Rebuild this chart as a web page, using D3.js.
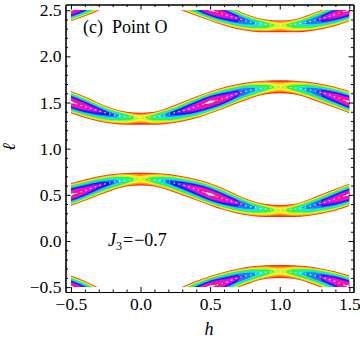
<!DOCTYPE html>
<html>
<head>
<meta charset="utf-8">
<script src="https://cdn.jsdelivr.net/npm/d3@7"></script>
<style>
  html, body { margin: 0; padding: 0; background: #fff; }
  text { font-family: "Liberation Serif", serif; fill: #000; }
</style>
</head>
<body>
<div id="chart"></div>
<script>
// values
const hKnots = [-0.5,-0.4,-0.3,-0.2,-0.1,0,0.1,0.2,0.3,0.4,0.5,0.6,0.7,0.8,0.9,1,1.1,1.2,1.3,1.4,1.5]

// band around l=0.5 (repeated at l=2.5)
const lowerTop = [.625,.665,.70,.725,.737,.74,.737,.725,.70,.668,.625,.565,.495,.435,.40,.39,.40,.445,.505,.565,.62]
const lowerRidge = [.50,.545,.60,.635,.66,.668,.66,.64,.607,.56,.505,.455,.41,.368,.345,.336,.345,.372,.41,.455,.505]
const lowerBottom = [.38,.435,.495,.55,.59,.60,.59,.55,.495,.44,.385,.335,.295,.27,.26,.26,.26,.27,.295,.33,.38]

// band around l=1.5 (repeated at l=-0.5)
const upperTop = [1.625,1.565,1.495,1.435,1.40,1.39,1.40,1.445,1.505,1.565,1.62,1.665,1.70,1.725,1.737,1.74,1.737,1.725,1.70,1.668,1.625]
const upperRidge = [1.505,1.455,1.41,1.368,1.345,1.336,1.345,1.372,1.41,1.455,1.505,1.545,1.60,1.635,1.66,1.668,1.66,1.64,1.607,1.56,1.505]
const upperBottom = [1.385,1.335,1.295,1.27,1.26,1.26,1.26,1.27,1.295,1.33,1.38,1.435,1.495,1.55,1.59,1.60,1.59,1.55,1.495,1.44,1.385]

// how far up the colour levels each knot goes
const peakLevel = [13.6,12.2,10.2,8.2,5.8,3.2,5.8,8.2,10.2,12.2,13.6,12.2,10.2,8,5.5,3.2,5.5,8,10.2,12.2,13.6]

const levelColors = ['#ff2a1a','#ff9a10','#ffee20','#a8ff20','#30f040','#20f0a0','#10e0f0','#1080ff','#1010f0','#7010f0','#d010f0','#ff10c0','#ff1080','#ffffff']

const xMajor = [-0.5,0,0.5,1,1.5]
const yMajor = [-0.5,0,0.5,1,1.5,2,2.5]
const xMinor = [-0.4,-0.3,-0.2,-0.1,0.1,0.2,0.3,0.4,0.6,0.7,0.8,0.9,1.1,1.2,1.3,1.4]
const yMinor = [-0.4,-0.3,-0.2,-0.1,0.1,0.2,0.3,0.4,0.6,0.7,0.8,0.9,1.1,1.2,1.3,1.4,1.6,1.7,1.8,1.9,2.1,2.2,2.3,2.4]

const width = 360, height = 343
const plotLeft = 65.5, plotRight = 353.5, plotTop = 4.5, plotBottom = 292

const x = d3.scaleLinear().domain([-0.539,1.53]).range([plotLeft,plotRight])
const y = d3.scaleLinear().domain([-0.553,2.562]).range([plotBottom,plotTop])

const svg = d3.select('#chart').append('svg')
  .attr('width',width).attr('height',height)
  .style('display','block')

svg.append('clipPath').attr('id','plotClip').append('rect')
  .attr('x',x(-0.5)).attr('y',y(2.5))
  .attr('width',x(1.5)-x(-0.5)).attr('height',y(-0.5)-y(2.5))

const plot = svg.append('g').attr('clip-path','url(#plotClip)')

// outline of one colour level: null where the ridge stays below the level
function levelPoints(topEdge,ridge,bottomEdge,k){
  let pts = []
  hKnots.forEach((h,i)=>{
    let p = peakLevel[i]
    if(i>0){
      let q = peakLevel[i-1]
      if((q-k)*(p-k)<0){
        // contour closes to a tip where the peak crosses the level
        let t = (k-q)/(p-q)
        let r = ridge[i-1]+t*(ridge[i]-ridge[i-1])
        pts.push({h:hKnots[i-1]+t*(h-hKnots[i-1]),hi:r,lo:r})
      }
    }
    if(p>k){
      let f = Math.pow(1-k/p,0.7)
      pts.push({h:h,hi:ridge[i]+(topEdge[i]-ridge[i])*f,lo:ridge[i]-(ridge[i]-bottomEdge[i])*f})
    } else {
      pts.push(null)
    }
  })
  return pts
}

function drawBand(topEdge,ridge,bottomEdge,offset){
  let g = plot.append('g')
  let area = d3.area()
    .defined(d=>d!==null)
    .curve(d3.curveMonotoneX)
    .x(d=>x(d.h))
    .y0(d=>y(d.lo+offset))
    .y1(d=>y(d.hi+offset))
  levelColors.forEach((c,k)=>{
    g.append('path').attr('d',area(levelPoints(topEdge,ridge,bottomEdge,k))).attr('fill',c)
  })
  // white dotted crest line
  let crest = d3.line().curve(d3.curveMonotoneX).x(d=>x(d.h)).y(d=>y(d.l+offset))
  g.append('path')
    .attr('d',crest(hKnots.map((h,i)=>({h:h,l:ridge[i]}))))
    .attr('fill','none').attr('stroke','#fff').attr('stroke-width',1.1)
    .attr('stroke-dasharray','1.5 3.5')
}

drawBand(lowerTop,lowerRidge,lowerBottom,0)
drawBand(lowerTop,lowerRidge,lowerBottom,2)
drawBand(upperTop,upperRidge,upperBottom,0)
drawBand(upperTop,upperRidge,upperBottom,-2)

// frame and ticks
const fmt = d=>d3.format('.1f')(d).replace('-','\u2212')
function drawAxis(axis,pos,vals,size,padding){
  let g = svg.append('g').attr('transform',pos)
    .call(axis.tickValues(vals).tickSizeInner(-size).tickSizeOuter(0)
      .tickPadding(padding).tickFormat(padding?fmt:''))
  g.select('.domain').attr('stroke','#000').attr('stroke-width',1.1)
  g.selectAll('.tick line').attr('stroke','#000').attr('stroke-width',1)
  g.selectAll('text').style('font-size','17.5px').style('font-family','"Liberation Serif", serif')
  return g
}
drawAxis(d3.axisBottom(x),`translate(0,${plotBottom})`,xMajor,5,6)
drawAxis(d3.axisBottom(x),`translate(0,${plotBottom})`,xMinor,2.5,0)
drawAxis(d3.axisTop(x),`translate(0,${plotTop})`,xMajor,5,0)
drawAxis(d3.axisTop(x),`translate(0,${plotTop})`,xMinor,2.5,0)
drawAxis(d3.axisLeft(y),`translate(${plotLeft},0)`,yMajor,5,4)
drawAxis(d3.axisLeft(y),`translate(${plotLeft},0)`,yMinor,2.5,0)
drawAxis(d3.axisRight(y),`translate(${plotRight},0)`,yMajor,5,0)
drawAxis(d3.axisRight(y),`translate(${plotRight},0)`,yMinor,2.5,0)

// labels
svg.append('text').attr('x',209).attr('y',335).attr('text-anchor','middle')
  .style('font-size','18px').style('font-style','italic').text('h')
svg.append('text').attr('transform','translate(15,147) rotate(-90)').attr('text-anchor','middle')
  .style('font-size','18px').style('font-style','italic').text('\u2113')
svg.append('text').attr('x',83).attr('y',33).style('font-size','18px').attr('xml:space','preserve').text('(c)  Point O')

let j3 = svg.append('text').attr('x',108).attr('y',246).style('font-size','18px')
j3.append('tspan').style('font-style','italic').text('J')
j3.append('tspan').attr('dy',4).style('font-size','12px').text('3')
j3.append('tspan').attr('dy',-4).attr('dx',1).text('=')
j3.append('tspan').attr('dx',1).text('\u22120.7')
</script>
</body>
</html>
